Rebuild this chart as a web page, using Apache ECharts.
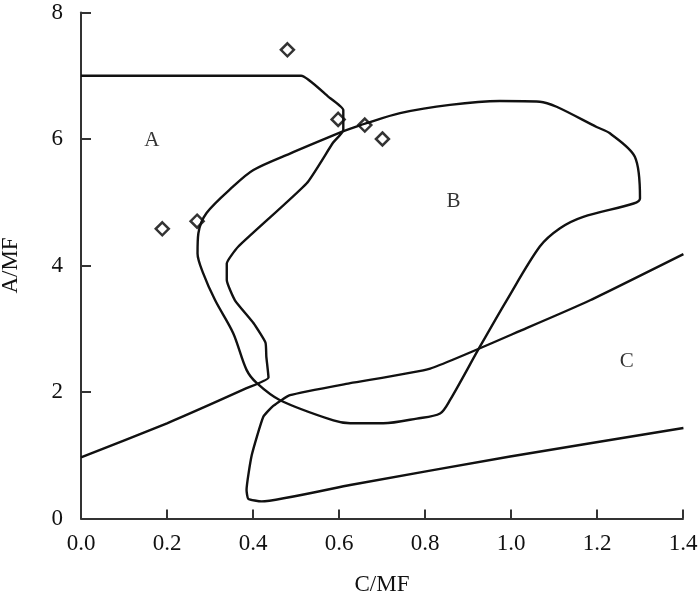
<!DOCTYPE html>
<html>
<head>
<meta charset="utf-8">
<script src="https://cdn.jsdelivr.net/npm/echarts@6/dist/echarts.min.js"></script>
<style>
html,body{margin:0;padding:0;background:#fff;}
#chart{width:700px;height:599px;}
</style>
</head>
<body>
<div id="chart"></div>
<script>
var xTicks = [0, 0.2, 0.4, 0.6, 0.8, 1.0, 1.2, 1.4];
var yTicks = [0, 2, 4, 6, 8];

var curveA = [[0,7.0],[0.512,7.0],[0.575,6.67],[0.610,6.46],[0.610,6.14],[0.586,5.94],[0.525,5.30],[0.366,4.30],[0.339,4.03],[0.339,3.77],[0.358,3.45],[0.401,3.09],[0.429,2.78],[0.431,2.56],[0.436,2.23],[0.385,2.06],[0.2,1.505],[0,0.968]];

var curveB = [[0.609,6.12],[0.486,5.77],[0.401,5.51],[0.354,5.25],[0.292,4.83],[0.273,4.51],[0.271,4.19],[0.284,3.88],[0.312,3.45],[0.354,2.93],[0.385,2.35],[0.409,2.14],[0.463,1.87],[0.587,1.55],[0.626,1.505],[0.703,1.505],[0.781,1.58],[0.835,1.66],[0.858,1.87],[0.928,2.72],[0.990,3.45],[1.067,4.30],[1.114,4.59],[1.168,4.77],[1.285,4.98],[1.300,5.06],[1.288,5.72],[1.230,6.09],[1.199,6.19],[1.106,6.51],[1.067,6.59],[0.974,6.60],[0.858,6.54],[0.742,6.41],[0.664,6.25],[0.609,6.12]];

var curveC = [[1.401,4.18],[1.184,3.45],[1.036,3.01],[0.812,2.37],[0.626,2.14],[0.486,1.95],[0.447,1.78],[0.424,1.61],[0.397,1.00],[0.385,0.45],[0.389,0.31],[0.420,0.27],[0.626,0.53],[0.998,0.98],[1.401,1.43]];

var samples = [[0.48,7.41],[0.598,6.31],[0.189,4.58],[0.27,4.70],[0.660,6.22],[0.701,6.00]];

var regionNames = ['A', 'B', 'C'];
var regionPos = [[0.165,5.98],[0.866,5.01],[1.269,2.48]];

var FONT = 'Liberation Serif';
var INK = '#111';

var chart = echarts.init(document.getElementById('chart'), null, {renderer: 'canvas'});

function lineSeries(data, smooth) {
  return {
    type: 'line', data: data, showSymbol: false, symbol: 'none',
    smooth: smooth, silent: true,
    lineStyle: {color: INK, width: 2.4}
  };
}

chart.setOption({
  animation: false,
  backgroundColor: '#fff',
  grid: {left: 81, right: 17, top: 12.5, bottom: 80.5, containLabel: false, outerBoundsMode: 'none'},
  xAxis: {
    type: 'value', min: xTicks[0], max: xTicks[xTicks.length-1], interval: 0.2,
    name: 'C/MF', nameLocation: 'middle', nameGap: 55,
    nameTextStyle: {fontFamily: FONT, fontSize: 23, color: INK},
    axisLine: {lineStyle: {color: '#333', width: 2}},
    axisTick: {inside: true, length: 9, lineStyle: {color: '#333', width: 2}},
    axisLabel: {fontFamily: FONT, fontSize: 23, color: INK, margin: 14,
      formatter: function (v) { return v.toFixed(1); }},
    splitLine: {show: false}
  },
  yAxis: {
    type: 'value', min: yTicks[0], max: yTicks[yTicks.length-1], interval: 2,
    name: 'A/MF', nameLocation: 'middle', nameGap: 59, nameRotate: 90,
    nameTextStyle: {fontFamily: FONT, fontSize: 23, color: INK},
    axisLine: {show: true, lineStyle: {color: '#333', width: 2}},
    axisTick: {show: true, inside: true, length: 10, lineStyle: {color: '#333', width: 2}},
    axisLabel: {fontFamily: FONT, fontSize: 23, color: INK, margin: 18},
    splitLine: {show: false}
  },
  series: [
    lineSeries(curveA, 0.15),
    lineSeries(curveB, 0.3),
    lineSeries(curveC, 0.15),
    {
      type: 'scatter', data: samples, symbol: 'diamond', symbolSize: 13, silent: true,
      itemStyle: {color: '#fff', borderColor: '#000', borderWidth: 2.5}
    },
    {
      type: 'scatter', symbolSize: 0, silent: true,
      data: regionNames.map(function (n, i) { return {name: n, value: regionPos[i]}; }),
      label: {show: true, position: 'inside', formatter: '{b}',
        fontFamily: FONT, fontSize: 21, color: '#000'}
    }
  ]
});
</script>
</body>
</html>
